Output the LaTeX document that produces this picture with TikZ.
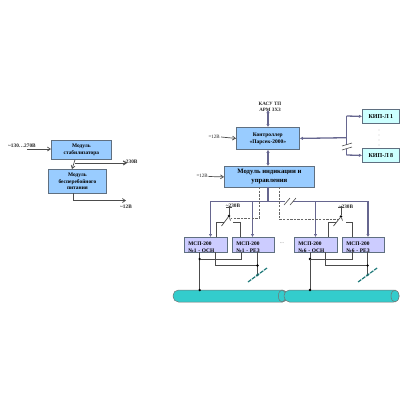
\documentclass[tikz,border=0pt]{standalone}
\usepackage{fontspec}
\setmainfont{Liberation Serif}
\usetikzlibrary{arrows.meta,calc}
\definecolor{blueb}{HTML}{99CCFF}
\definecolor{cyanb}{HTML}{CCFFFF}
\definecolor{lilac}{HTML}{CCCCFF}
\definecolor{bord}{HTML}{5F6F80}
\definecolor{bus}{HTML}{66668F}
\definecolor{pipe}{HTML}{33CCCC}
\newcommand{\msl}[1]{\raisebox{-2pt}[5pt][1pt]{#1}}
\tikzset{
 box/.style={draw=bord,line width=.8pt,anchor=north west,inner sep=0pt,align=center,font=\fontsize{5.4}{6.6}\selectfont\bfseries},
 msp/.style={box,fill=lilac,align=left,inner xsep=4pt,inner ysep=0pt,text width=35pt,minimum height=15pt,font=\fontsize{5.4}{7}\selectfont\bfseries},
 lbl/.style={inner sep=0pt,font=\fontsize{5.3}{6}\selectfont\bfseries,align=center,text=black!85},
 thin line/.style={draw=black!70,line width=.7pt},
 arr/.style={thin line,-{Straight Barb[length=3pt,width=4pt]}},
 busl/.style={draw=bus,line width=1.3pt},
 busa/.style={busl,{Latex[length=3pt,width=3.4pt]}-{Latex[length=3pt,width=3.4pt]}},
 busb/.style={busl,-{Latex[length=3pt,width=3.4pt]}},
 dash line/.style={draw=black!60,line width=.55pt,dash pattern=on 2.4pt off 1.2pt},
 dotn/.style={circle,fill=black,inner sep=0pt,minimum size=2.6pt},
 pipebody/.style={draw=black!55,line width=.5pt,fill=pipe,rounded corners=5.5pt},
}
\begin{document}
\begin{tikzpicture}[x=1pt,y=-1pt]
\useasboundingbox (0,0) rectangle (400,400);
\fill[white] (0,0) rectangle (400,400);
% left
\node[box,fill=blueb,minimum width=60pt,minimum height=19pt] (stab) at (51,140) {Модуль\\стабилизатора};
\node[box,fill=blueb,minimum width=58pt,minimum height=24pt] (ups) at (48,169) {Модуль\\бесперебойного\\питания};
\node[lbl,anchor=west] (inl) at (8,145.5) {\textasciitilde130…270В};
\coordinate (ina) at (27,149);
\draw[arr] (ina) -- (ina -| stab.west);
\draw[arr] ($(stab.south west)+(24,0)$) -- ($(ups.north west)+(24,0)$);
\node[lbl,anchor=west] (o230) at (123,161.5) {\textasciitilde230В};
\coordinate (b1) at (75,163);
\draw[arr,line width=.9pt] (b1) -- (127,163);
\coordinate (u1) at (73.5,193);
\coordinate (u2) at (73.5,200.5);
\coordinate (u3) at (126,200.5);
\draw[arr] (u1) -- (u2) -- (u3);
\node[lbl,anchor=west] (o12) at (120,206.5) {\textasciitilde12В};
% controller
\node[box,fill=blueb,minimum width=63pt,minimum height=22pt,font=\fontsize{5.5}{7}\selectfont\bfseries] (ctl) at (236,127) {Контроллер\\«Парсек-2000»};
\node[box,fill=blueb,minimum width=90pt,minimum height=21pt,font=\fontsize{6.7}{9}\selectfont\bfseries] (mod) at (224,166) {Модуль индикации и\\управления};
\node[box,fill=cyanb,minimum width=37pt,minimum height=14pt,font=\fontsize{6}{7}\selectfont\bfseries] (k1) at (362,109) {КИП-Л 1};
\node[box,fill=cyanb,minimum width=37pt,minimum height=14pt,font=\fontsize{6}{7}\selectfont\bfseries] (k8) at (362,148) {КИП-Л 8};
\node[lbl,font=\fontsize{5}{6.2}\selectfont\bfseries] (kasu) at (270,106.5) {КАСУ ТП\\АРМ ЗХЗ};
\draw[busa] (268,110) -- (268,127);
\draw[busa] (ctl.south -| 268,0) -- (mod.north -| 268,0);
\draw[busl,{Latex[length=3pt,width=3.4pt]}-] (ctl.east) -- (346.5,137.7);
\draw[busb] (346.5,116) -- (k1.west);
\draw[busb] (346.5,155) -- (k8.west);
\draw[busl] (346.5,116) -- (346.5,155);
\fill[white] (344,145) rectangle (349,148.5);
\draw[draw=black!70,line width=.6pt] (342,146) -- (352,143) (342,150) -- (352,147);
\fill[black!55] (379,130) circle (.35) (379,135) circle (.35) (379,140) circle (.35) (379,145) circle (.35);
\node[lbl,anchor=east,font=\fontsize{5}{6}\selectfont] (p1) at (220,136.5) {=12В};
\draw[arr] (221,137) -- (ctl.west);
\node[lbl,anchor=east,font=\fontsize{5}{6}\selectfont] (p2) at (208,176) {=12В};
\draw[arr] (208.5,176.5) -- (mod.west);
% MSP
\node[msp] (m1) at (184,237) {\msl{МСП-200}\\\msl{№1 - ОСН}};
\node[msp,text width=34pt] (m2) at (232,237) {\msl{МСП-200}\\\msl{№1 - РЕЗ}};
\node[msp] (m3) at (294,237) {\msl{МСП-200}\\\msl{№6 - ОСН}};
\node[msp,text width=34pt] (m4) at (342,237) {\msl{МСП-200}\\\msl{№6 - РЕЗ}};
\draw[busl] (268,187) -- (268,201.5);
\draw[busb] (210.5,201.5) -- (210.5,237);
\draw[busb] (252.5,201.5) -- (252.5,237);
\draw[busb] (315.5,201.5) -- (315.5,237);
\draw[busb] (368,201.5) -- (368,237);
\draw[busl] (210,201.5) -- (368.6,201.5);
\fill[white] (285,200) rectangle (293,203);
\draw[draw=black!70,line width=.6pt] (284,205) -- (290,198) (290,205) -- (296,198);
% dashed
\draw[dash line] (259,187) -- (259,218) -- (231,218);
\draw[dash line] (279,187) -- (279,219) -- (338,219);
% switches
\node[lbl] (s1) at (233,206) {\textasciitilde230В};
\node[lbl] (s2) at (346,206.5) {\textasciitilde230В};
\node[dotn] (d1) at (229,216) {};
\node[dotn] (d2) at (341,216.5) {};
\draw[thin line] (229,206) -- (d1);
\draw[thin line] (341,206) -- (d2);
\draw[thin line] (226,207.5) -- (232,207.5);
\draw[thin line] (338,207) -- (344,207);
\draw[thin line] (d1) -- (221.5,226);
\draw[thin line] (216,237) -- (216,222.5) -- (224,222.5);
\draw[thin line] (240,237) -- (240,222.5) -- (233,222.5);
\draw[thin line] (d1) -- (230.5,220.5);
\draw[thin line] (d2) -- (333.5,226);
\draw[thin line] (328,237) -- (328,222.5) -- (336,222.5);
\draw[thin line] (352.5,237) -- (352.5,222.5) -- (346,222.5);
\draw[thin line] (d2) -- (342.5,220.5);
% pipes
\draw[pipebody] (173,290) rectangle (288,302);
\draw[draw=black!55,line width=.5pt,fill=pipe] (282,296) ellipse (3.6 and 6);
\draw[pipebody] (284,290) rectangle (399,302);
\draw[draw=black!55,line width=.5pt,fill=pipe] (395,296) ellipse (4 and 6);
% bottom wiring
\foreach \a/\b/\c/\d in {199.7/241.7/215.5/257.5,310/352/325.5/367.6}{
 \draw[thin line] (\a,252) -- (\a,290);
 \node[dotn] at (\a,259) {};
 \node[dotn] at (\a,290) {};
 \draw[thin line] (\a,259) -- (\b,259) -- (\b,252);
 \draw[thin line] (\c,252) -- (\c,265.5) -- (\d,265.5) -- (\d,252);
 \draw[thin line] (\d,265.5) -- (\d,275);
 \node[dotn] at (\d,265.5) {};
 \draw[draw=pipe!60!black,line width=1.2pt,dash pattern=on 4pt off 1pt] ($(\d,275)+(-9.5,7)$) -- ($(\d,275)+(9.5,-7)$);
 \node[dotn,fill=pipe!50!black] at (\d,275) {};
}
\node[lbl,text=black!60,font=\fontsize{5.5}{6}\selectfont] (dots) at (282,243.5) {...};
\end{tikzpicture}
\end{document}
